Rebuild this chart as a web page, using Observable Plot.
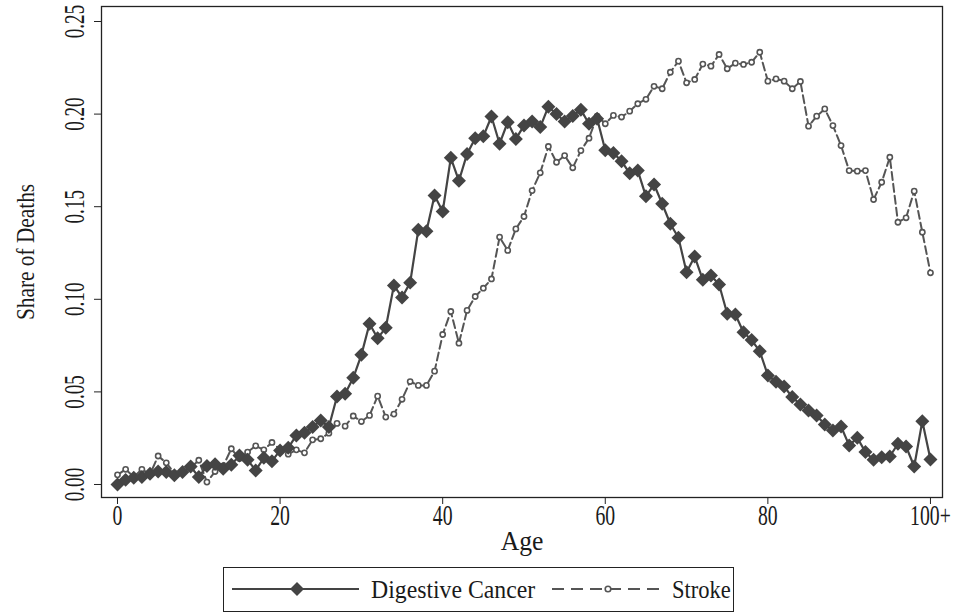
<!DOCTYPE html>
<html>
<head>
<meta charset="utf-8">
<script src="https://cdn.jsdelivr.net/npm/d3@7"></script>
<script src="https://cdn.jsdelivr.net/npm/@observablehq/plot@0.6"></script>
<style>
  body { margin: 0; background: #fff; font-family: "Liberation Serif", "DejaVu Serif", serif; }
  #wrap { width: 955px; position: relative; }
  #legend { position: absolute; left: 223px; top: 567px; width: 511px; height: 45px; border: 1px solid #222; box-sizing: border-box; font-size: 25px; color: #1a1a1a; white-space: nowrap; }
  #legend svg, #legend span { position: absolute; display: block; }
  #legend span { transform-origin: left center; line-height: 43px; top: 0; }
</style>
</head>
<body>
<div id="wrap"></div>
<div id="legend">
  <svg width="130" height="20" style="left:8px;top:11px"><line x1="0" y1="10" x2="127" y2="10" stroke="#444" stroke-width="2.2"/><path d="M65 3 L72 10 L65 17 L58 10 Z" fill="#444"/></svg>
  <span style="left:147px;transform:scaleX(0.95)">Digestive Cancer</span>
  <svg width="112" height="20" style="left:328px;top:11px"><line x1="0" y1="10" x2="110" y2="10" stroke="#555" stroke-width="2" stroke-dasharray="12,7"/><circle cx="56" cy="10" r="2.8" fill="#fff" stroke="#555" stroke-width="1.6"/></svg>
  <span style="left:448px;transform:scaleX(0.9)">Stroke</span>
</div>
<script>
const ages = d3.range(0, 101);
const digestive = [
  0.000, 0.0025, 0.0036, 0.004, 0.0058, 0.007, 0.0067, 0.005, 0.0067, 0.0097,
  0.004, 0.010, 0.011, 0.0085, 0.0106, 0.0157, 0.0133, 0.0076, 0.0144, 0.0126,
  0.0184, 0.0198, 0.0265, 0.028, 0.031, 0.0346, 0.031, 0.0475, 0.049, 0.0576,
  0.070, 0.0868, 0.079, 0.0846, 0.1075, 0.101, 0.109, 0.1375, 0.1368, 0.156,
  0.1474, 0.1764, 0.164, 0.1785, 0.187, 0.188, 0.1987, 0.184, 0.1956, 0.1866,
  0.1938, 0.196, 0.193, 0.204, 0.200, 0.196, 0.199, 0.2023, 0.1948, 0.1975,
  0.1805, 0.179, 0.1746, 0.168, 0.1695, 0.1556, 0.162, 0.1516, 0.1408, 0.1332,
  0.1146, 0.1231, 0.1105, 0.1128, 0.108, 0.0922, 0.0918, 0.0822, 0.078, 0.072,
  0.0589, 0.0555, 0.0529, 0.0472, 0.0432, 0.040, 0.0373, 0.0324, 0.0292, 0.0313,
  0.0211, 0.0252, 0.0175, 0.0133, 0.0147, 0.0151, 0.022, 0.0205, 0.0097, 0.0342,
  0.0135
];
const stroke = [
  0.0052, 0.0082, 0.004, 0.0082, 0.0055, 0.0154, 0.0117, 0.006, 0.007, 0.009,
  0.0131, 0.0013, 0.007, 0.010, 0.0193, 0.014, 0.0175, 0.0209, 0.0187, 0.0227,
  0.019, 0.0164, 0.0187, 0.0171, 0.0241, 0.0247, 0.0277, 0.033, 0.0315, 0.037,
  0.034, 0.0373, 0.0477, 0.0364, 0.038, 0.046, 0.0556, 0.0535, 0.0535, 0.0612,
  0.081, 0.0934, 0.0763, 0.094, 0.1015, 0.106, 0.111, 0.1336, 0.1264, 0.138,
  0.1447, 0.1587, 0.1683, 0.1825, 0.174, 0.1776, 0.171, 0.1803, 0.187, 0.1989,
  0.1948, 0.1993, 0.1984, 0.2016, 0.2056, 0.208, 0.215, 0.2137, 0.2226, 0.2286,
  0.2169, 0.2187, 0.227, 0.2259, 0.2322, 0.2245, 0.2275, 0.2268, 0.228, 0.2334,
  0.2178, 0.219, 0.2178, 0.2137, 0.2176, 0.1935, 0.1989, 0.2028, 0.1938, 0.183,
  0.1695, 0.1692, 0.1695, 0.1539, 0.1632, 0.1767, 0.1416, 0.144, 0.1584, 0.1362,
  0.1143
];
const xTicks = [0, 20, 40, 60, 80, 100];
const xTickLabels = ["0", "20", "40", "60", "80", "100+"];
const yTicks = [0, 0.05, 0.10, 0.15, 0.20, 0.25];
const yTickLabels = ["0.00", "0.05", "0.10", "0.15", "0.20", "0.25"];

const dig = ages.map((a, i) => ({age: a, v: digestive[i]}));
const str = ages.map((a, i) => ({age: a, v: stroke[i]}));
const font = "Liberation Serif";

const chart = Plot.plot({
  width: 955,
  height: 562,
  marginLeft: 101,
  marginRight: 13,
  marginTop: 6,
  marginBottom: 65,
  style: {fontFamily: font, background: "#fff", color: "#1a1a1a"},
  x: {domain: [-1.968, 101.48], label: null},
  y: {domain: [-0.00702, 0.2581], label: null},
  marks: [
    Plot.frame({stroke: "#222", strokeWidth: 1.3}),
    Plot.axisX({ticks: xTicks, tickSize: 7, tickFormat: () => "", stroke: "#222", label: null}),
    Plot.axisY({ticks: yTicks, tickSize: 7, tickFormat: () => "", stroke: "#222", label: null}),
    Plot.text(xTicks, {x: d => d, text: (d, i) => xTickLabels[i], frameAnchor: "bottom", textAnchor: "middle", dy: 27, fontSize: 29, fill: "#1a1a1a", ariaLabel: () => "xlab"}),
    Plot.text(yTicks, {y: d => d, text: (d, i) => yTickLabels[i], frameAnchor: "left", textAnchor: "middle", dx: -27, rotate: -90, fontSize: 29, fill: "#1a1a1a", ariaLabel: () => "ylab"}),
    Plot.text(["Age"], {text: d => d, frameAnchor: "bottom", textAnchor: "middle", dy: 52, fontSize: 27, fill: "#1a1a1a", ariaLabel: () => "xtitle"}),
    Plot.text(["Share of Deaths"], {text: d => d, frameAnchor: "left", textAnchor: "middle", dx: -76, rotate: -90, fontSize: 26, fill: "#1a1a1a", ariaLabel: () => "ytitle"}),
    Plot.line(str, {x: "age", y: "v", stroke: "#555", strokeWidth: 2, strokeDasharray: "8,4"}),
    Plot.dot(str, {x: "age", y: "v", r: 2.6, fill: "#fff", stroke: "#555", strokeWidth: 1.6}),
    Plot.line(dig, {x: "age", y: "v", stroke: "#444", strokeWidth: 2.2}),
    Plot.dot(dig, {x: "age", y: "v", symbol: "diamond2", r: 6.3, fill: "#444", stroke: "none"})
  ]
});
document.getElementById("wrap").appendChild(chart);

function squeeze(label, sx) {
  chart.querySelectorAll(`[aria-label="${label}"]`).forEach(el => {
    const texts = el.tagName.toLowerCase() === "text" ? [el] : Array.from(el.querySelectorAll("text"));
    texts.forEach(t => {
      const L = t.getComputedTextLength();
      if (L > 0) {
        t.setAttribute("textLength", (L * sx).toFixed(2));
        t.setAttribute("lengthAdjust", "spacingAndGlyphs");
      }
    });
  });
}
squeeze("xlab", 0.68);
squeeze("ylab", 0.66);
squeeze("xtitle", 0.95);
squeeze("ytitle", 0.82);
</script>
</body>
</html>
